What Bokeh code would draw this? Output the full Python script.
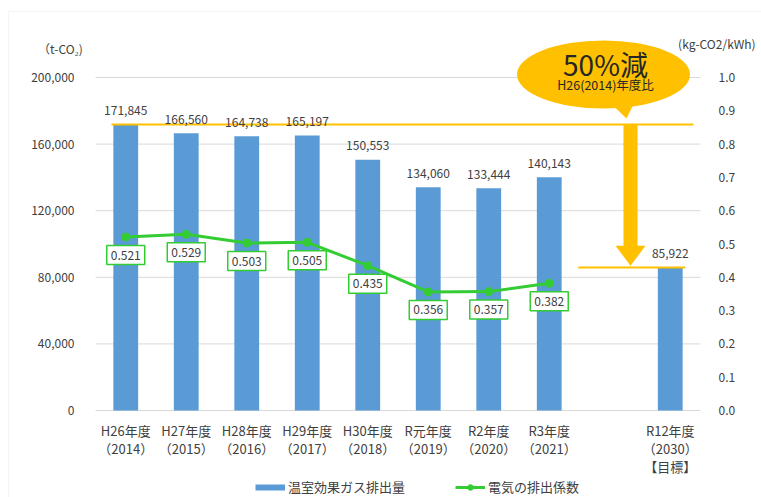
from bokeh.plotting import figure
from bokeh.models import (Range1d, LinearAxis, FixedTicker, LabelSet, Label,
                          ColumnDataSource, Legend, LegendItem, BoxAnnotation,
                          NumeralTickFormatter)
from bokeh.embed import file_html
from bokeh.resources import INLINE
from bokeh.core.properties import value

FONT = "Noto Sans CJK JP"
TXT = "#404040"
BLUE = "#5B9BD5"
GREEN = "#33CC33"
ORANGE = "#FFC000"

# ---------------- data ----------------
categories = ["H26年度\n（2014）", "H27年度\n（2015）", "H28年度\n（2016）", "H29年度\n（2017）",
              "H30年度\n（2018）", "R元年度\n（2019）", "R2年度\n（2020）", "R3年度\n（2021）",
              "R12年度\n（2030）\n【目標】"]
slots = [0, 1, 2, 3, 4, 5, 6, 7, 9]          # slot 8 is left empty in the original
emissions = [171845, 166560, 164738, 165197, 150553, 134060, 133444, 140143, 85922]
coef = [0.521, 0.529, 0.503, 0.505, 0.435, 0.356, 0.357, 0.382]
left_ticks = [0, 40000, 80000, 120000, 160000, 200000]
right_ticks = [0.0, 0.1, 0.2, 0.3, 0.4, 0.5, 0.6, 0.7, 0.8, 0.9, 1.0]
base_value = emissions[0]
target_value = emissions[-1]
callout_main = "50%減"
callout_sub = "H26(2014)年度比"
left_unit = "（t-CO₂)"
right_unit = "(kg-CO2/kWh)"
legend_labels = ["温室効果ガス排出量", "電気の排出係数"]

# ---------------- geometry (frame = whole canvas) ----------------
W, H = 761, 497
PLOT_L, PLOT_R, PLOT_B, PLOT_T = 95, 700, 410, 77     # pixel box of the value area
X0, X1 = -0.5, 9.5
xppu = (PLOT_R - PLOT_L) / (X1 - X0)
yppu = (PLOT_B - PLOT_T) / 200000.0
x_start = X0 - PLOT_L / xppu
x_end = X0 + (W - PLOT_L) / xppu
y_start = -(H - PLOT_B) / yppu
y_end = PLOT_B / yppu
r_scale = 1.0 / 200000.0
LBL_DROP = 18 / (yppu * 200000.0)

p = figure(width=W, height=H, output_backend="svg", toolbar_location=None,
           x_range=Range1d(x_start, x_end), y_range=Range1d(y_start, y_end),
           x_axis_type=None, y_axis_type=None,
           min_border_left=0, min_border_right=0, min_border_top=0, min_border_bottom=0,
           outline_line_color=None, background_fill_color="white", border_fill_color="white")
p.extra_y_ranges = {"coef": Range1d(y_start * r_scale, y_end * r_scale)}

# border of the chart area
p.add_layout(BoxAnnotation(left=8, right=790, top=11, bottom=540,
                           left_units="canvas", right_units="canvas",
                           top_units="canvas", bottom_units="canvas",
                           fill_color=None, line_color="#D9D9D9", line_width=1))

# horizontal gridlines
p.segment(x0=[X0] * len(left_ticks), y0=left_ticks, x1=[X1] * len(left_ticks), y1=left_ticks,
          line_color="#D9D9D9", line_width=1)

def style_axis(ax, size="12px"):
    ax.axis_line_color = None
    ax.major_tick_line_color = None
    ax.minor_tick_line_color = None
    ax.major_label_text_font = FONT
    ax.major_label_text_font_size = size
    ax.major_label_text_color = TXT

left_axis = LinearAxis(ticker=FixedTicker(ticks=left_ticks), fixed_location=X0,
                       formatter=NumeralTickFormatter(format="0,0"), major_label_standoff=15)
style_axis(left_axis)
p.add_layout(left_axis, "left")

right_axis = LinearAxis(y_range_name="coef", ticker=FixedTicker(ticks=right_ticks), fixed_location=X1,
                        formatter=NumeralTickFormatter(format="0.0"), major_label_standoff=12)
style_axis(right_axis)
p.add_layout(right_axis, "right")

bottom_axis = LinearAxis(ticker=FixedTicker(ticks=slots), fixed_location=0,
                         major_label_overrides={s: c for s, c in zip(slots, categories)},
                         major_label_standoff=4)
style_axis(bottom_axis, "13px")
bottom_axis.major_label_text_line_height = 0.95
p.add_layout(bottom_axis, "below")

# ---------------- bars ----------------
bar_src = ColumnDataSource(dict(x=slots, top=emissions, lbl=[f"{v:,}" for v in emissions]))
bars = p.vbar(x="x", top="top", width=0.41, source=bar_src, fill_color=BLUE, line_color=None)
p.add_layout(LabelSet(x="x", y="top", text="lbl", source=bar_src, text_align="center",
                      text_baseline="middle", y_offset=14, text_font=value(FONT),
                      text_font_size="12px", text_color=TXT))

# ---------------- reference lines / arrow ----------------
p.segment(x0=[-0.236], y0=[base_value], x1=[9.384], y1=[base_value], line_color=ORANGE, line_width=2)
p.segment(x0=[7.48], y0=[target_value], x1=[9.25], y1=[target_value], line_color=ORANGE, line_width=2)

ax_c, sw, hw = 8.343, 0.116, 0.248
head_top = 99000
p.patch([ax_c - sw, ax_c + sw, ax_c + sw, ax_c + hw, ax_c, ax_c - hw, ax_c - sw],
        [base_value, base_value, head_top, head_top, target_value + 1000, head_top, head_top],
        fill_color=ORANGE, line_color=None)

# callout bubble
p.patch([7.93, 8.442, 8.277], [187500, 187500, 175400], fill_color=ORANGE, line_color=None)
p.ellipse(x=[7.897], y=[201800], width=2.86, height=40800, fill_color=ORANGE, line_color=None)
p.add_layout(Label(x=7.93, y=208300, text=callout_main, text_align="center", text_baseline="middle",
                   text_font=FONT, text_font_size="28px", text_color="#262626"))
p.add_layout(Label(x=7.93, y=195800, text=callout_sub, text_align="center", text_baseline="middle",
                   text_font=FONT, text_font_size="12.5px", text_color="#262626"))

# ---------------- coefficient line ----------------
coef_slots = slots[:len(coef)]
c_src = ColumnDataSource(dict(x=coef_slots, y=coef, ly=[v - LBL_DROP for v in coef],
                              lbl=[f"{v:.3f}" for v in coef]))
ln = p.line("x", "y", source=c_src, y_range_name="coef", line_color=GREEN, line_width=3)
mk = p.scatter("x", "y", source=c_src, y_range_name="coef", size=8, fill_color=GREEN, line_color=GREEN)
p.rect(x="x", y="ly", width=38, height=19, width_units="screen", height_units="screen",
       source=c_src, y_range_name="coef", fill_color="white", line_color=GREEN, line_width=1.5)
p.add_layout(LabelSet(x="x", y="ly", text="lbl", source=c_src, y_range_name="coef",
                      text_align="center", text_baseline="middle",
                      text_font=value(FONT), text_font_size="12px", text_color=TXT))

# ---------------- unit labels ----------------
p.add_layout(Label(x=-1.079, y=217400, text=left_unit, text_align="center", text_baseline="middle",
                   text_font=FONT, text_font_size="12px", text_color=TXT))
p.add_layout(Label(x=9.13, y=220400, text=right_unit, text_align="left", text_baseline="middle",
                   text_font=FONT, text_font_size="12px", text_color=TXT))

# ---------------- legend ----------------
# legend swatch for the bars: an off-screen thick line in the bar colour
swatch = p.line(x=[x_start - 10, x_start - 9], y=[0, 0], line_color=BLUE, line_width=6)
legend = Legend(items=[LegendItem(label=legend_labels[0], renderers=[swatch]),
                       LegendItem(label=legend_labels[1], renderers=[ln, mk])],
                location=(255, 1), orientation="horizontal", spacing=50,
                glyph_width=30, glyph_height=14, label_height=14, label_standoff=3,
                padding=0, margin=0, border_line_color=None, background_fill_alpha=0,
                label_text_font=FONT, label_text_font_size="13px", label_text_color=TXT)
p.add_layout(legend)

open("out.html", "w").write(file_html(p, INLINE))
